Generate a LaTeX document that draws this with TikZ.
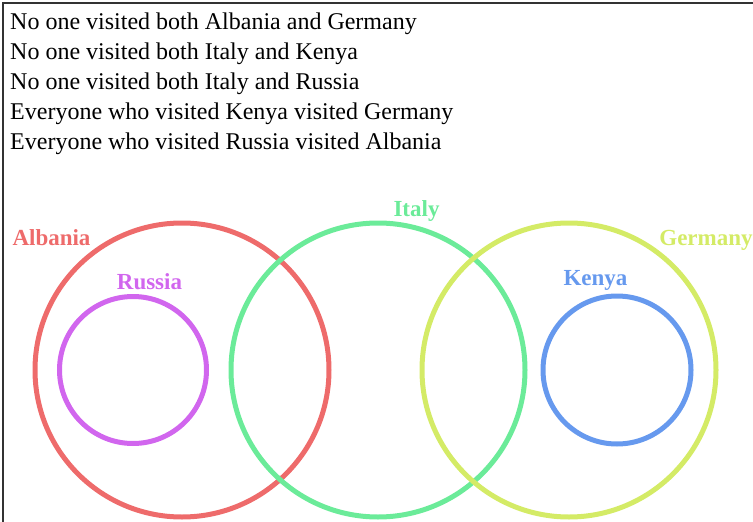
\documentclass[tikz,border=0pt]{standalone}
\usepackage{fontspec}
\setmainfont{Liberation Serif}
\usepackage{tikz}
\definecolor{frame}{HTML}{333333}
\definecolor{albaniac}{HTML}{EE6B6B}
\definecolor{russiac}{HTML}{D166EE}
\definecolor{italyc}{HTML}{6BEB99}
\definecolor{germanyc}{HTML}{D4EB66}
\definecolor{kenyac}{HTML}{6699EE}

\begin{document}
\begin{tikzpicture}[x=1pt,y=-1pt,
  fact/.style={anchor=base west,inner sep=0pt,font=\fontsize{24}{29}\selectfont},
  set/.style={circle,draw=#1,line width=5pt,inner sep=0pt},
  setname/.style={anchor=base,inner sep=0pt,text=#1,font=\fontsize{23}{27}\selectfont\bfseries}]
  \useasboundingbox (0,0) rectangle (753,522);
  \draw[frame,line width=1.5pt] (3,522) -- (3,3) -- (753,3);
  \node[fact] (f1) at (10,29) {No one visited both Albania and Germany};
  \node[fact] (f2) at (10,59.5) {No one visited both Italy and Kenya};
  \node[fact] (f3) at (10,89.5) {No one visited both Italy and Russia};
  \node[fact] (f4) at (10,119.5) {Everyone who visited Kenya visited Germany};
  \node[fact] (f5) at (10,149.5) {Everyone who visited Russia visited Albania};
  \node[set=albaniac,minimum size=294pt] (albania) at (182,370) {};
  \node[set=russiac,minimum size=147pt] (russia) at (133,370) {};
  \node[set=italyc,minimum size=294pt] (italy) at (378,370) {};
  \node[set=germanyc,minimum size=294pt] (germany) at (569,370) {};
  \node[set=kenyac,minimum size=148pt] (kenya) at (617,370) {};
  \node[setname=albaniac] (albanialbl) at (51.5,245) {Albania};
  \node[setname=russiac] (russialbl) at (149.5,289) {Russia};
  \node[setname=italyc] (italylbl) at (416.5,216) {Italy};
  \node[setname=germanyc] (germanylbl) at (706,245) {Germany};
  \node[setname=kenyac] (kenyalbl) at (595.5,285) {Kenya};
\end{tikzpicture}
\end{document}
